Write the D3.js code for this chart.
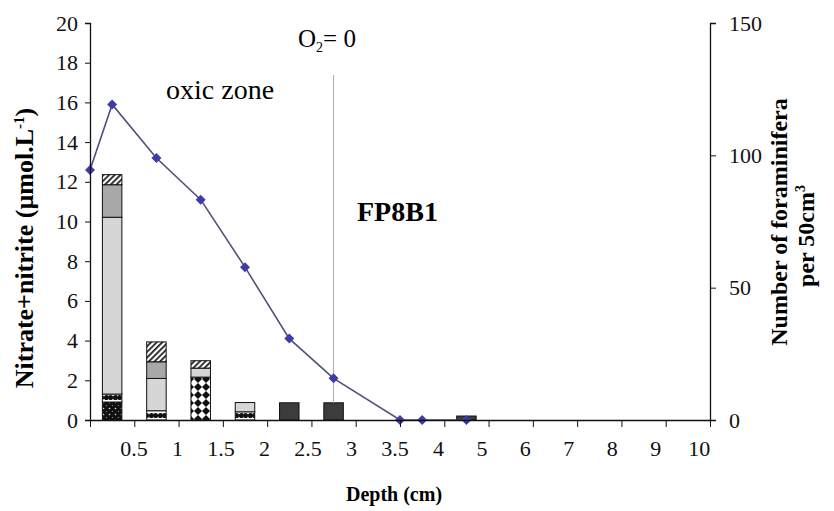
<!DOCTYPE html>
<html>
<head>
<meta charset="utf-8">
<script src="https://cdn.jsdelivr.net/npm/d3@7"></script>
<style>
  body { margin: 0; background: #fff; }
</style>
</head>
<body>
<script>
// depth axis: uneven steps, every step gets the same width
var tickDepths = [0, 0.5, 1, 1.5, 2, 2.5, 3, 3.5, 4, 5, 6, 7, 8, 9, 10];
var tickLabels = ["", "0.5", "1", "1.5", "2", "2.5", "3", "3.5", "4", "5", "6", "7", "8", "9", "10"];

// nitrate+nitrite profile (left axis)
var nitrateDepth = [0, 0.25, 0.75, 1.25, 1.75, 2.25, 2.75, 3.5, 3.75, 4.5];
var nitrateValue = [12.6, 15.9, 13.2, 11.1, 7.7, 4.1, 2.1, 0, 0, 0];

// sediment slices for the foraminifera bars (right axis)
var sliceTop    = [0, 0.5, 1, 1.5, 2, 2.5, 3, 3.5, 4, 5, 6, 7, 8, 9];
var sliceBottom = [0.5, 1, 1.5, 2, 2.5, 3, 3.5, 4, 5, 6, 7, 8, 9, 10];

// stacked counts, bottom to top
var taxonSpeckled = [6.8, 0, 0, 0, 0, 0, 0, 0, 0, 0, 0, 0, 0, 0];
var taxonDotted   = [3.0, 3.5, 0, 3.1, 0, 0, 0, 0, 0, 0, 0, 0, 0, 0];
var taxonDiamond  = [0, 0, 16.2, 0, 0, 0, 0, 0, 0, 0, 0, 0, 0, 0];
var taxonLight    = [66.8, 12.2, 3.4, 3.5, 0, 0, 0, 0, 0, 0, 0, 0, 0, 0];
var taxonMid      = [12.3, 6.3, 0, 0, 0, 0, 0, 0, 0, 0, 0, 0, 0, 0];
var taxonHatched  = [3.8, 7.5, 2.8, 0, 0, 0, 0, 0, 0, 0, 0, 0, 0, 0];
var taxonDark     = [0, 0, 0, 0, 6.5, 6.5, 0, 0, 1.5, 0, 0, 0, 0, 0];

var o2ZeroDepth = 2.75;

var serif = "'Liberation Serif', 'Times New Roman', 'DejaVu Serif', serif";

var width = 834, height = 511;
var margin = {top: 23, right: 124, bottom: 91, left: 90},
    plotW = width - margin.left - margin.right,
    plotH = height - margin.top - margin.bottom;

var svg = d3.select("body").append("svg")
    .attr("width", width)
    .attr("height", height)
    .attr("font-family", serif);

var step = plotW / (tickDepths.length - 1);
var x = d3.scaleLinear()
    .domain(tickDepths)
    .range(tickDepths.map(function(d, i) { return i * step; }));
var yL = d3.scaleLinear().domain([0, 20]).range([plotH, 0]);
var yR = d3.scaleLinear().domain([0, 150]).range([plotH, 0]);

// fill patterns
var defs = svg.append("defs");
function pattern(id, w, h) {
  return defs.append("pattern").attr("id", id)
      .attr("patternUnits", "userSpaceOnUse")
      .attr("width", w).attr("height", h);
}
var p = pattern("speckled", 6, 6);
p.append("rect").attr("width", 6).attr("height", 6).attr("fill", "#111");
p.append("circle").attr("cx", 1.5).attr("cy", 1.5).attr("r", 0.8).attr("fill", "#ddd");
p.append("circle").attr("cx", 4.5).attr("cy", 4.5).attr("r", 0.6).attr("fill", "#999");

p = pattern("dotted", 9, 9);
p.append("rect").attr("width", 9).attr("height", 9).attr("fill", "#fff");
p.append("circle").attr("cx", 2.5).attr("cy", 5.5).attr("r", 2.6).attr("fill", "#111");
p.append("circle").attr("cx", 7.5).attr("cy", 5.5).attr("r", 2.6).attr("fill", "#111");

p = pattern("diamond", 8, 8);
p.append("rect").attr("width", 8).attr("height", 8).attr("fill", "#fff");
p.append("path").attr("d", "M4,0L8,4L4,8L0,4Z").attr("fill", "#111");

p = pattern("hatched", 4, 4).attr("patternTransform", "rotate(45)");
p.append("rect").attr("width", 4).attr("height", 4).attr("fill", "#fff");
p.append("rect").attr("width", 1.8).attr("height", 4).attr("fill", "#222");

var layers = [
  {values: taxonSpeckled, fill: "url(#speckled)"},
  {values: taxonDotted,   fill: "url(#dotted)"},
  {values: taxonDiamond,  fill: "url(#diamond)"},
  {values: taxonLight,    fill: "#d6d6d6"},
  {values: taxonMid,      fill: "#a8a8a8"},
  {values: taxonHatched,  fill: "url(#hatched)"},
  {values: taxonDark,     fill: "#3c3c3c"}
];

var g = svg.append("g")
    .attr("transform", "translate(" + margin.left + "," + margin.top + ")");

// stacked bars
var barW = step * 0.44;
var rows = sliceTop.map(function(t, i) {
  var r = {mid: (t + sliceBottom[i]) / 2};
  layers.forEach(function(l, j) { r["k" + j] = l.values[i]; });
  return r;
});
var stack = d3.stack().keys(layers.map(function(l, j) { return "k" + j; }));
var series = stack(rows);

g.selectAll(".layer")
    .data(series)
  .enter().append("g")
    .attr("class", "layer")
    .attr("fill", function(d, j) { return layers[j].fill; })
  .selectAll("rect")
    .data(function(d) { return d.filter(function(s) { return s[1] - s[0] > 0; }); })
  .enter().append("rect")
    .attr("x", function(d) { return x(d.data.mid) - barW / 2; })
    .attr("width", barW)
    .attr("y", function(d) { return yR(d[1]); })
    .attr("height", function(d) { return yR(d[0]) - yR(d[1]); })
    .attr("stroke", "#111")
    .attr("stroke-width", 1);

// O2 = 0 marker line, down to the top of the bar
var o2Idx = sliceTop.findIndex(function(t, i) { return t < o2ZeroDepth && sliceBottom[i] > o2ZeroDepth; });
var o2BarTop = d3.sum(layers, function(l) { return l.values[o2Idx]; });
g.append("line")
    .attr("x1", x(o2ZeroDepth)).attr("x2", x(o2ZeroDepth))
    .attr("y1", 52).attr("y2", yR(o2BarTop))
    .attr("stroke", "#aaa").attr("stroke-width", 1);

// nitrate line
var nitrate = nitrateDepth.map(function(d, i) { return [d, nitrateValue[i]]; });
g.append("path")
    .datum(nitrate)
    .attr("fill", "none")
    .attr("stroke", "#50507a")
    .attr("stroke-width", 1.6)
    .attr("d", d3.line()
      .x(function(d) { return x(d[0]); })
      .y(function(d) { return yL(d[1]); }));

g.selectAll(".marker")
    .data(nitrate)
  .enter().append("path")
    .attr("class", "marker")
    .attr("transform", function(d) { return "translate(" + x(d[0]) + "," + yL(d[1]) + ") rotate(45)"; })
    .attr("d", d3.symbol(d3.symbolSquare, 50))
    .attr("fill", "#3d3da6");

// axes
var axL = g.append("g")
    .call(d3.axisLeft(yL).tickValues(d3.range(0, 21, 2)).tickSize(5).tickPadding(7).tickSizeOuter(5));
var axR = g.append("g")
    .attr("transform", "translate(" + plotW + ",0)")
    .call(d3.axisRight(yR).tickValues([0, 50, 100, 150]).tickSize(6).tickPadding(13).tickSizeOuter(6));
var axB = g.append("g")
    .attr("transform", "translate(0," + plotH + ")")
    .call(d3.axisBottom(x).tickValues(tickDepths)
      .tickFormat(function(d, i) { return tickLabels[i]; })
      .tickSize(7).tickPadding(13).tickSizeOuter(0));

[axL, axR, axB].forEach(function(a) {
  a.attr("font-family", serif).attr("font-size", 22);
  a.selectAll("text").attr("fill", "#111");
  a.selectAll("line").attr("stroke", "#111");
  a.select(".domain").attr("stroke", "#111").attr("stroke-width", 1.3);
});
// category labels drift a little left of their ticks in the original
axB.selectAll(".tick text").attr("dx", function(d, i) { return -i * 0.8; });

// titles
svg.append("text")
    .attr("x", margin.left + x(3.5) - 6).attr("y", 501)
    .attr("text-anchor", "middle")
    .attr("font-size", 20).attr("font-weight", "bold")
    .text("Depth (cm)");

var tl = svg.append("text")
    .attr("transform", "translate(33,248) rotate(-90)")
    .attr("text-anchor", "middle")
    .attr("font-size", 26).attr("font-weight", "bold");
tl.append("tspan").text("Nitrate+nitrite (\u00b5mol.L");
tl.append("tspan").attr("dy", -9).attr("font-size", 15).text("-1");
tl.append("tspan").attr("dy", 9).text(")");

svg.append("text")
    .attr("transform", "translate(787,222) rotate(-90)")
    .attr("text-anchor", "middle")
    .attr("font-size", 24).attr("font-weight", "bold")
    .text("Number of foraminifera");

var tr = svg.append("text")
    .attr("transform", "translate(814,236) rotate(-90)")
    .attr("text-anchor", "middle")
    .attr("font-size", 24).attr("font-weight", "bold");
tr.append("tspan").text("per 50cm");
tr.append("tspan").attr("dy", -9).attr("font-size", 14).text("3");

// annotations
svg.append("text")
    .attr("x", 166).attr("y", 99)
    .attr("font-size", 28)
    .text("oxic zone");

var o2 = svg.append("text")
    .attr("x", 298).attr("y", 47)
    .attr("font-size", 25);
o2.append("tspan").text("O");
o2.append("tspan").attr("dy", 5).attr("font-size", 14).text("2");
o2.append("tspan").attr("dy", -5).text("= 0");

svg.append("text")
    .attr("x", 357).attr("y", 221)
    .attr("font-size", 28).attr("font-weight", "bold")
    .text("FP8B1");
</script>
</body>
</html>
